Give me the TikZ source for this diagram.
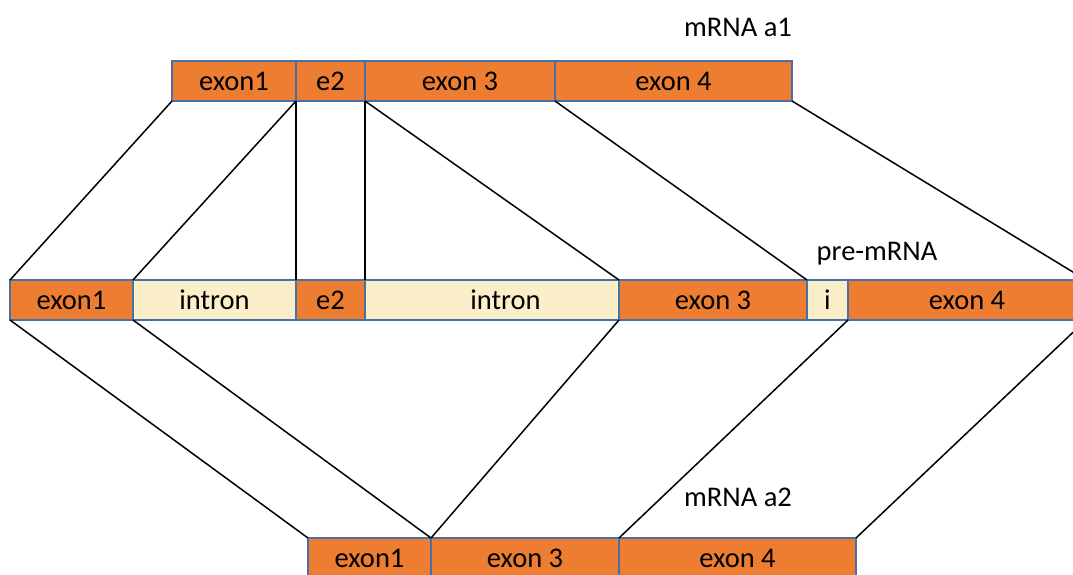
\documentclass[tikz,border=0pt]{standalone}
\usepackage{fontspec}
\setmainfont{Carlito}
\definecolor{exonfill}{HTML}{EC7D31}
\definecolor{intronfill}{HTML}{FBEFCA}
\definecolor{boxline}{HTML}{4A6FA5}
\tikzset{
  seg/.style={draw=boxline, line width=1.3pt, inner sep=0pt, outer sep=0pt,
    minimum height=40pt, anchor=north west, font=\fontsize{28.5}{32}\selectfont},
  exon/.style={seg, fill=exonfill},
  intron/.style={seg, fill=intronfill},
  link/.style={draw=black, line width=1.5pt},
  title/.style={font=\fontsize{28.5}{32}\selectfont}
}
\begin{document}
\begin{tikzpicture}[x=1pt,y=-1pt]
\useasboundingbox (0,0) rectangle (1073,574);
\clip (0,0) rectangle (1073,574);
\fill[white] (0,0) rectangle (1073,574);

% mature mRNA a1
\node[exon, minimum width=124pt] (a1e1) at (172,61) {exon1};
\node[exon, minimum width=69pt]  (a1e2) at (296,61) {e2};
\node[exon, minimum width=190pt] (a1e3) at (365,61) {exon 3};
\node[exon, minimum width=237pt] (a1e4) at (555,61) {exon 4};
\node[title] (lab1) at (738,27) {mRNA a1};

% pre-mRNA
\node[exon, minimum width=123pt]   (pe1) at (10,280) {exon1};
\node[intron, minimum width=163pt] (pi1) at (133,280) {intron};
\node[exon, minimum width=69pt]    (pe2) at (296,280) {e2};
\node[intron, minimum width=254pt] (pi2) at (365,280) {\hspace*{27pt}intron};
\node[exon, minimum width=188pt]   (pe3) at (619,280) {exon 3};
\node[intron, minimum width=41pt]  (pi3) at (807,280) {i};
\node[exon, minimum width=238pt]   (pe4) at (848,280) {exon 4};
\node[title] (lab2) at (877,254) {pre-mRNA};

% mature mRNA a2
\node[exon, minimum width=123pt] (b1) at (308,538) {exon1};
\node[exon, minimum width=188pt] (b3) at (431,538) {exon 3};
\node[exon, minimum width=237pt] (b4) at (619,538) {exon 4};
\node[title] (lab3) at (738,497) {mRNA a2};

% connections to mRNA a1
\draw[link] (a1e1.south west) -- (pe1.north west);
\draw[link] (a1e1.south east) -- (pi1.north west);
\draw[link] (a1e2.south west) -- (pe2.north west);
\draw[link] (a1e2.south east) -- (pe2.north east);
\draw[link] (a1e3.south west) -- (pe3.north west);
\draw[link] (a1e3.south east) -- (pe3.north east);
\draw[link] (a1e4.south east) -- (pe4.north east);

% connections to mRNA a2
\draw[link] (pe1.south west) -- (b1.north west);
\draw[link] (pe1.south east) -- (b1.north east);
\draw[link] (pe3.south west) -- (b3.north west);
\draw[link] (pe4.south west) -- (b4.north west);
\draw[link] (pe4.south east) -- (b4.north east);
\end{tikzpicture}
\end{document}
